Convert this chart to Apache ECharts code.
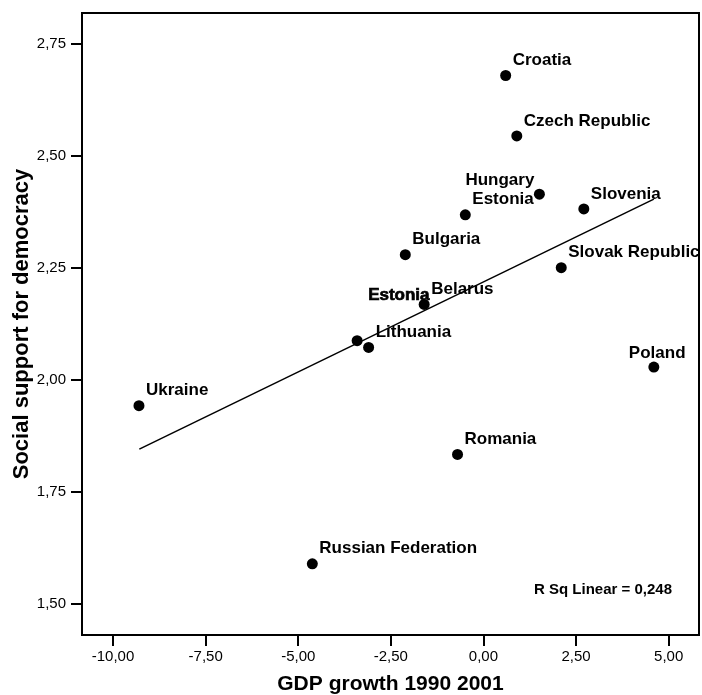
<!DOCTYPE html>
<html>
<head>
<meta charset="utf-8">
<script src="https://cdn.jsdelivr.net/npm/echarts@6/dist/echarts.min.js"></script>
<style>
html, body { margin: 0; padding: 0; background: #fff; }
#chart { width: 702px; height: 695px; }
</style>
</head>
<body>
<div id="chart"></div>
<script>
// data
var countries = ['Croatia', 'Czech Republic', 'Hungary', 'Estonia', 'Slovenia', 'Bulgaria',
  'Slovak Republic', 'Belarus', 'Estonia', 'Lithuania', 'Ukraine', 'Poland', 'Romania', 'Russian Federation'];
var gdpGrowth = [0.60, 0.90, 1.51, -0.49, 2.71, -2.11, 2.10, -1.60, -3.41, -3.10, -9.30, 4.60, -0.70, -4.62];
var support = [2.679, 2.544, 2.414, 2.368, 2.381, 2.279, 2.250, 2.168, 2.087, 2.072, 1.942, 2.028, 1.833, 1.589];

// fit line end points (as drawn)
var fitX = [-9.29, 4.60];
var fitY = [1.845, 2.403];

var xTicks = [-10, -7.5, -5, -2.5, 0, 2.5, 5];
var yTicks = [1.5, 1.75, 2, 2.25, 2.5, 2.75];
var rSqText = 'R Sq Linear = 0,248';

var myChart = echarts.init(document.getElementById('chart'));
var font = "'Liberation Sans', Arial, sans-serif";

function comma(v) {
  return v.toFixed(2).replace('.', ',');
}

// label placement per point index (offset of label from point centre)
var labelPos = {
  2: { dx: -5, dy: -14, align: 'right' },   // Hungary
  8: { dx: 11, dy: -45, bolder: true },     // Estonia (bold one)
  11: { dx: -25, dy: -14 }                  // Poland
};

var points = [];
for (var i = 0; i < countries.length; i++) {
  var p = labelPos[i] || { dx: 7, dy: -15 };
  var item = {
    name: countries[i],
    value: [gdpGrowth[i], support[i]],
    label: {
      position: [p.dx + 5.5, p.dy + 5.5],
      align: p.align || 'left',
      verticalAlign: 'middle'
    }
  };
  if (p.bolder) {
    item.label.textBorderColor = '#000';
    item.label.textBorderWidth = 0.7;
  }
  points.push(item);
}

var fitData = [];
for (var j = 0; j < fitX.length; j++) {
  fitData.push([fitX[j], fitY[j]]);
}

var option = {
  backgroundColor: '#fff',
  animation: false,
  title: {
    text: rSqText,
    right: 30,
    top: 582,
    padding: 0,
    textStyle: { fontFamily: font, fontSize: 15, fontWeight: 'bold', color: '#000' }
  },
  grid: {
    left: 82,
    right: 3,
    top: 13,
    bottom: 60,
    outerBoundsMode: 'none',
    containLabel: false,
    show: true,
    borderColor: '#000',
    borderWidth: 2
  },
  xAxis: {
    type: 'value',
    min: -10.838,
    max: 5.819,
    name: 'GDP growth 1990 2001',
    nameLocation: 'middle',
    nameGap: 39,
    nameMoveOverlap: false,
    nameTextStyle: { fontFamily: font, fontSize: 21, fontWeight: 'bold', color: '#000' },
    axisLine: { show: true, onZero: false, lineStyle: { color: '#000', width: 2 } },
    axisTick: { show: true, inside: false, length: 11, customValues: xTicks, lineStyle: { color: '#000', width: 2 } },
    axisLabel: {
      customValues: xTicks,
      margin: 14,
      fontFamily: font,
      fontSize: 15,
      color: '#000',
      formatter: comma
    },
    splitLine: { show: false }
  },
  yAxis: {
    type: 'value',
    min: 1.430,
    max: 2.8185,
    name: 'Social support for democracy',
    nameLocation: 'middle',
    nameGap: 49,
    nameMoveOverlap: false,
    nameTextStyle: { fontFamily: font, fontSize: 22, fontWeight: 'bold', color: '#000' },
    axisLine: { show: true, onZero: false, lineStyle: { color: '#000', width: 2 } },
    axisTick: { show: true, inside: false, length: 11, customValues: yTicks, lineStyle: { color: '#000', width: 2 } },
    axisLabel: {
      customValues: yTicks,
      margin: 16,
      fontFamily: font,
      fontSize: 15,
      color: '#000',
      formatter: comma
    },
    splitLine: { show: false }
  },
  series: [
    {
      type: 'line',
      data: fitData,
      symbol: 'none',
      silent: true,
      lineStyle: { color: '#000', width: 1.5 },
      z: 1
    },
    {
      type: 'scatter',
      data: points,
      symbol: 'circle',
      symbolSize: 11,
      itemStyle: { color: '#000', opacity: 1 },
      label: {
        show: true,
        formatter: '{b}',
        fontFamily: font,
        fontSize: 17,
        fontWeight: 'bold',
        color: '#000',
        opacity: 1
      },
      z: 3
    }
  ]
};

myChart.setOption(option);
</script>
</body>
</html>
